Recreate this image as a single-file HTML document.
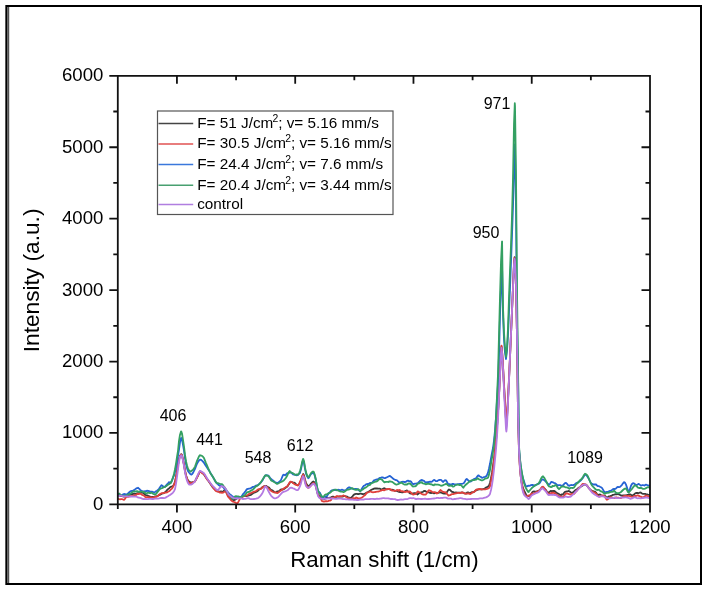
<!DOCTYPE html>
<html><head><meta charset="utf-8"><style>
html,body{margin:0;padding:0;background:#fff;width:706px;height:591px;overflow:hidden}
svg{display:block;will-change:transform;filter:blur(0.3px)}
text{font-family:"Liberation Sans", sans-serif}
</style></head><body><svg width="706" height="591" viewBox="0 0 706 591" font-family='"Liberation Sans", sans-serif' fill="#000"><defs><clipPath id="clip"><rect x="117.8" y="75.8" width="532.2" height="428.59999999999997"/></clipPath></defs><rect x="5" y="5" width="697" height="2" fill="#000"/><rect x="5" y="583" width="697" height="2" fill="#000"/><rect x="700" y="5" width="2" height="580" fill="#000"/><rect x="5" y="5" width="1" height="580" fill="#555"/><rect x="6" y="5" width="1" height="580" fill="#000"/><rect x="7" y="7" width="1" height="576" fill="#6a6a6a"/><rect x="8" y="7" width="1" height="576" fill="#505050"/><rect x="9" y="7" width="1" height="576" fill="#d8d8d8"/><g clip-path="url(#clip)"><path d="M118.0,495.3 L119.0,495.4 L120.0,495.7 L121.0,496.0 L122.0,496.1 L123.0,496.3 L124.0,496.6 L124.9,496.7 L125.0,496.4 L126.0,496.0 L127.0,495.6 L128.0,495.4 L129.0,495.3 L130.0,495.0 L131.0,494.4 L132.0,494.2 L133.0,494.0 L134.0,493.6 L135.0,493.8 L136.0,493.9 L137.0,493.4 L138.0,493.1 L139.0,493.2 L140.0,493.2 L141.0,492.7 L142.0,492.1 L142.8,492.4 L143.0,493.0 L144.0,493.7 L145.0,494.6 L146.0,495.2 L147.0,495.3 L148.0,495.7 L149.0,496.2 L150.0,496.6 L151.0,497.0 L152.0,496.9 L153.0,496.9 L154.0,496.9 L154.7,496.6 L155.0,496.4 L156.0,496.3 L157.0,496.2 L158.0,495.7 L159.0,495.1 L160.0,494.8 L161.0,494.2 L162.0,493.6 L163.0,493.4 L164.0,492.9 L165.0,492.2 L166.0,491.4 L167.0,490.2 L168.0,489.2 L169.0,488.3 L170.0,487.3 L171.0,486.7 L172.0,486.6 L173.0,486.0 L174.0,484.5 L175.0,481.9 L176.0,477.2 L177.0,471.3 L178.0,464.8 L179.0,459.2 L180.0,456.0 L181.0,454.4 L181.4,454.2 L182.0,455.2 L183.0,459.6 L184.0,464.6 L185.0,470.7 L186.0,475.3 L187.0,478.4 L188.0,480.4 L189.0,481.4 L190.0,482.2 L190.5,482.4 L191.0,482.5 L192.0,482.4 L193.0,482.2 L194.0,482.1 L195.0,481.3 L196.0,479.4 L197.0,477.3 L198.0,475.6 L199.0,473.3 L200.0,471.6 L200.2,471.3 L201.0,471.9 L202.0,472.4 L203.0,473.2 L204.0,474.4 L205.0,476.0 L206.0,477.4 L207.0,478.8 L208.0,480.2 L209.0,481.7 L210.0,483.3 L211.0,484.7 L212.0,486.2 L213.0,487.7 L214.0,488.6 L215.0,489.3 L216.0,490.4 L217.0,491.2 L218.0,491.4 L219.0,491.6 L220.0,491.6 L221.0,491.4 L221.8,491.6 L222.0,492.0 L223.0,491.6 L224.0,490.6 L224.7,490.0 L225.0,490.0 L226.0,491.4 L227.0,493.3 L228.0,495.4 L229.0,497.0 L230.0,498.0 L231.0,498.6 L232.0,499.1 L233.0,499.9 L233.3,500.1 L234.0,500.0 L235.0,499.8 L236.0,499.1 L237.0,498.5 L238.0,498.2 L239.0,497.8 L240.0,497.5 L241.0,497.2 L242.0,496.8 L243.0,496.4 L244.0,496.0 L245.0,496.1 L246.0,496.2 L247.0,496.0 L248.0,495.7 L249.0,495.3 L250.0,495.1 L251.0,494.8 L252.0,494.0 L253.0,493.2 L254.0,492.7 L255.0,492.3 L256.0,491.9 L257.0,491.4 L258.0,490.7 L259.0,489.7 L260.0,489.1 L261.0,488.4 L262.0,487.5 L263.0,486.8 L264.0,486.3 L265.0,486.0 L265.6,485.9 L266.0,485.8 L267.0,486.5 L268.0,487.1 L269.0,487.6 L270.0,488.8 L271.0,489.8 L272.0,490.2 L273.0,490.8 L274.0,491.7 L275.0,492.4 L276.0,492.3 L277.0,491.7 L277.1,491.4 L278.0,491.6 L279.0,491.2 L280.0,490.2 L281.0,489.4 L282.0,489.5 L283.0,489.5 L284.0,489.0 L285.0,488.2 L286.0,487.5 L287.0,486.8 L288.0,485.6 L289.0,484.0 L290.0,482.6 L291.0,481.8 L291.1,481.8 L292.0,482.2 L293.0,482.6 L294.0,482.6 L295.0,483.1 L296.0,484.1 L297.0,485.0 L298.0,485.2 L298.1,485.1 L299.0,484.4 L300.0,482.7 L301.0,480.5 L302.0,476.9 L303.0,474.2 L303.2,473.9 L304.0,475.5 L305.0,479.8 L306.0,482.8 L307.0,484.8 L308.0,486.1 L308.3,486.0 L309.0,485.8 L310.0,484.8 L311.0,483.6 L312.0,482.5 L313.0,481.6 L313.4,481.5 L314.0,482.0 L315.0,483.8 L316.0,486.7 L317.0,491.5 L318.0,494.7 L319.0,495.8 L320.0,496.9 L321.0,498.0 L322.0,499.0 L322.6,499.2 L323.0,499.2 L324.0,499.1 L325.0,498.7 L326.0,498.1 L327.0,497.8 L328.0,498.0 L329.0,498.0 L330.0,497.6 L331.0,497.3 L332.0,496.8 L333.0,496.5 L334.0,497.0 L335.0,497.4 L336.0,497.0 L337.0,496.6 L338.0,496.6 L339.0,496.6 L340.0,496.3 L341.0,496.5 L342.0,496.7 L343.0,496.5 L344.0,496.2 L345.0,496.2 L346.0,496.4 L347.0,496.6 L348.0,497.2 L349.0,497.8 L350.0,497.7 L350.4,497.9 L351.0,497.9 L352.0,497.0 L353.0,495.7 L354.0,494.6 L355.0,494.1 L356.0,493.9 L357.0,493.9 L358.0,494.2 L359.0,494.0 L360.0,493.6 L361.0,493.7 L362.0,494.0 L363.0,494.1 L364.0,493.9 L365.0,493.6 L366.0,493.0 L367.0,492.4 L368.0,492.1 L369.0,491.4 L370.0,490.7 L371.0,490.1 L372.0,489.5 L373.0,489.1 L374.0,488.7 L375.0,488.5 L376.0,488.4 L377.0,488.5 L378.0,488.7 L379.0,488.7 L380.0,488.7 L381.0,489.3 L382.0,489.4 L383.0,488.7 L384.0,488.2 L385.0,488.5 L386.0,489.1 L387.0,489.3 L388.0,489.1 L389.0,489.0 L390.0,489.6 L391.0,489.8 L392.0,489.7 L393.0,489.8 L394.0,490.4 L395.0,490.9 L396.0,490.8 L397.0,490.9 L398.0,491.5 L399.0,491.9 L400.0,492.0 L401.0,492.1 L402.0,492.4 L403.0,492.3 L404.0,491.7 L405.0,491.2 L406.0,490.8 L407.0,490.4 L407.1,490.6 L408.0,491.4 L409.0,492.5 L410.0,493.4 L411.0,493.6 L412.0,493.6 L413.0,493.5 L414.0,493.2 L415.0,493.1 L416.0,493.4 L417.0,494.0 L417.6,494.5 L418.0,494.0 L419.0,493.2 L420.0,492.8 L421.0,492.4 L422.0,492.2 L423.0,491.7 L424.0,491.0 L425.0,490.8 L425.3,491.1 L426.0,491.6 L427.0,491.9 L428.0,492.1 L429.0,492.5 L430.0,492.9 L431.0,493.0 L432.0,492.8 L433.0,492.8 L434.0,493.4 L435.0,493.2 L436.0,492.7 L437.0,493.0 L438.0,492.8 L439.0,492.6 L440.0,492.4 L440.6,492.3 L441.0,492.7 L442.0,492.9 L443.0,493.3 L444.0,493.5 L445.0,493.4 L445.7,493.7 L446.0,493.5 L447.0,492.1 L448.0,490.4 L449.0,489.5 L449.5,489.8 L450.0,489.9 L451.0,491.0 L452.0,491.9 L453.0,492.0 L454.0,492.6 L455.0,492.7 L456.0,492.5 L457.0,492.6 L458.0,492.7 L459.0,492.6 L460.0,492.6 L461.0,492.6 L462.0,492.4 L463.0,492.6 L464.0,493.1 L465.0,493.4 L466.0,493.7 L466.1,493.6 L467.0,492.7 L468.0,492.3 L469.0,492.8 L470.0,493.1 L471.0,492.5 L472.0,492.1 L473.0,492.3 L474.0,491.9 L475.0,490.9 L476.0,490.4 L477.0,490.1 L478.0,489.5 L479.0,489.3 L480.0,489.3 L481.0,489.3 L482.0,489.3 L483.0,489.1 L484.0,488.9 L485.0,488.3 L486.0,487.6 L487.0,487.2 L488.0,486.6 L489.0,485.6 L490.0,482.8 L491.0,478.2 L492.0,472.9 L493.0,466.0 L494.0,459.5 L495.0,451.0 L496.0,440.6 L497.0,426.6 L498.0,412.9 L499.0,395.2 L500.0,373.8 L501.0,351.7 L501.5,346.5 L502.0,350.5 L503.0,366.1 L504.0,385.9 L505.0,404.2 L506.0,420.9 L506.4,423.0 L507.0,418.6 L508.0,399.9 L509.0,379.8 L510.0,357.0 L511.0,334.1 L512.0,311.0 L513.0,287.6 L514.0,263.0 L514.6,257.1 L515.0,259.5 L516.0,282.5 L517.0,336.5 L518.0,412.5 L519.0,450.6 L520.0,467.9 L521.0,478.7 L522.0,484.7 L523.0,488.2 L524.0,490.4 L525.0,492.4 L526.0,494.5 L527.0,495.9 L527.5,496.2 L528.0,496.1 L529.0,495.9 L530.0,495.9 L531.0,494.6 L532.0,492.7 L533.0,491.6 L534.0,491.4 L535.0,491.6 L536.0,491.7 L537.0,491.3 L538.0,490.9 L539.0,490.5 L540.0,490.1 L541.0,488.7 L542.0,487.4 L542.2,487.7 L543.0,488.1 L544.0,488.4 L545.0,489.0 L546.0,490.1 L547.0,491.8 L547.9,492.9 L548.0,492.9 L549.0,492.2 L550.0,491.4 L551.0,490.8 L551.3,490.9 L552.0,491.1 L553.0,491.0 L554.0,490.9 L555.0,491.4 L556.0,492.3 L557.0,493.1 L558.0,493.5 L559.0,494.1 L560.0,494.9 L561.0,495.0 L561.5,494.5 L562.0,494.8 L563.0,494.3 L564.0,492.9 L565.0,491.9 L566.0,491.6 L567.0,491.3 L568.0,491.1 L568.3,491.0 L569.0,491.1 L570.0,491.7 L571.0,492.5 L571.7,493.0 L572.0,492.9 L573.0,492.4 L574.0,491.5 L575.0,490.4 L576.0,489.8 L577.0,489.3 L578.0,488.3 L579.0,487.6 L580.0,487.4 L581.0,486.6 L582.0,486.0 L583.0,485.3 L584.0,484.6 L584.1,484.5 L585.0,484.7 L586.0,484.9 L587.0,485.5 L588.0,487.0 L589.0,488.4 L590.0,489.3 L591.0,490.2 L592.0,490.8 L593.0,491.2 L594.0,491.6 L595.0,491.6 L596.0,492.6 L597.0,494.2 L598.0,495.1 L599.0,494.6 L600.0,494.4 L601.0,495.2 L602.0,496.0 L603.0,496.0 L604.0,495.8 L605.0,496.0 L606.0,497.0 L606.8,497.7 L607.0,497.7 L608.0,497.0 L609.0,496.3 L610.0,496.2 L611.0,496.0 L612.0,495.4 L613.0,494.9 L614.0,494.7 L615.0,494.3 L616.0,494.1 L616.7,494.4 L617.0,494.2 L618.0,494.1 L619.0,494.4 L620.0,494.9 L621.0,495.5 L622.0,495.6 L623.0,495.4 L624.0,495.4 L624.7,495.4 L625.0,495.5 L626.0,495.5 L627.0,495.0 L628.0,494.8 L628.6,494.9 L629.0,494.4 L630.0,494.4 L631.0,494.9 L632.0,495.3 L632.6,495.3 L633.0,495.3 L634.0,494.6 L635.0,493.5 L636.0,492.9 L637.0,493.0 L638.0,493.0 L638.5,493.2 L639.0,493.0 L640.0,492.5 L641.0,492.7 L642.0,493.5 L643.0,493.9 L644.0,493.9 L645.0,493.9 L646.0,494.2 L647.0,494.4 L648.0,494.7 L649.0,494.9 L650.0,494.9" fill="none" stroke="#3a3a3a" stroke-width="1.8" stroke-linejoin="round"/><path d="M118.0,498.4 L119.0,499.2 L120.0,499.4 L121.0,499.2 L122.0,499.2 L123.0,499.5 L123.9,499.8 L124.0,499.8 L125.0,498.8 L126.0,497.3 L127.0,496.8 L128.0,496.9 L129.0,496.6 L130.0,496.3 L131.0,496.1 L132.0,496.2 L133.0,496.0 L134.0,495.4 L135.0,495.2 L136.0,495.0 L137.0,494.2 L138.0,493.8 L139.0,494.0 L139.8,493.7 L140.0,493.4 L141.0,494.1 L142.0,494.8 L143.0,495.2 L144.0,495.7 L145.0,496.7 L146.0,497.4 L147.0,497.1 L148.0,497.0 L149.0,497.3 L150.0,497.5 L151.0,497.3 L152.0,497.5 L153.0,497.6 L154.0,497.2 L155.0,496.9 L156.0,496.9 L157.0,496.6 L158.0,495.8 L159.0,494.7 L160.0,494.0 L161.0,493.5 L162.0,493.1 L163.0,493.2 L164.0,493.0 L165.0,492.6 L166.0,492.6 L167.0,492.4 L168.0,491.8 L169.0,491.3 L170.0,490.5 L171.0,489.4 L172.0,488.6 L173.0,487.0 L174.0,484.7 L175.0,482.0 L176.0,477.3 L177.0,471.4 L178.0,464.8 L179.0,459.2 L180.0,456.2 L181.0,454.6 L181.4,454.5 L182.0,455.4 L183.0,459.7 L184.0,464.6 L185.0,470.8 L186.0,475.5 L187.0,478.7 L188.0,481.2 L189.0,482.8 L190.0,483.4 L190.4,482.9 L191.0,483.1 L192.0,483.1 L193.0,482.4 L194.0,481.9 L195.0,481.4 L196.0,479.5 L197.0,477.5 L198.0,475.5 L199.0,473.0 L200.0,471.5 L200.2,471.4 L201.0,472.0 L202.0,473.1 L203.0,473.6 L204.0,474.0 L205.0,475.7 L206.0,477.7 L207.0,479.3 L208.0,480.4 L209.0,481.4 L210.0,482.9 L211.0,484.4 L212.0,485.9 L213.0,487.3 L214.0,488.8 L215.0,490.0 L216.0,491.0 L217.0,491.5 L218.0,491.5 L219.0,492.1 L220.0,492.7 L221.0,492.5 L221.8,492.3 L222.0,492.8 L223.0,492.7 L224.0,492.1 L224.7,491.5 L225.0,491.0 L226.0,492.1 L227.0,494.4 L228.0,496.6 L229.0,497.7 L230.0,498.8 L231.0,500.2 L232.0,501.1 L233.0,501.7 L234.0,502.0 L235.0,502.4 L236.0,502.8 L237.0,503.1 L237.5,503.0 L238.0,502.6 L239.0,500.7 L240.0,498.6 L241.0,497.6 L242.0,497.1 L243.0,496.4 L244.0,495.9 L245.0,495.8 L246.0,495.6 L247.0,495.3 L248.0,494.8 L249.0,494.1 L250.0,493.4 L251.0,493.0 L252.0,492.6 L253.0,492.1 L254.0,491.7 L255.0,491.4 L256.0,491.0 L257.0,490.2 L258.0,489.4 L259.0,489.2 L260.0,489.1 L261.0,488.8 L262.0,488.0 L263.0,486.9 L264.0,486.3 L265.0,486.3 L265.6,486.5 L266.0,486.5 L267.0,487.3 L268.0,488.1 L269.0,488.9 L270.0,490.0 L271.0,490.8 L272.0,491.4 L273.0,492.0 L274.0,492.3 L275.0,492.3 L276.0,492.7 L277.0,492.9 L277.1,493.1 L278.0,492.8 L279.0,492.1 L280.0,491.2 L281.0,490.5 L282.0,489.8 L283.0,489.1 L284.0,488.3 L285.0,487.7 L286.0,487.1 L287.0,486.5 L288.0,485.4 L289.0,483.4 L290.0,481.9 L290.5,481.7 L291.0,481.7 L292.0,482.2 L293.0,483.1 L294.0,483.8 L295.0,484.5 L296.0,484.9 L297.0,485.0 L297.5,485.4 L298.0,485.6 L299.0,484.0 L300.0,481.7 L301.0,479.6 L302.0,476.8 L303.0,474.9 L303.2,474.7 L304.0,476.6 L305.0,481.4 L306.0,484.5 L307.0,486.4 L308.0,487.8 L308.3,487.9 L309.0,487.5 L310.0,486.7 L311.0,485.7 L312.0,484.3 L313.0,483.2 L313.4,483.0 L314.0,483.1 L315.0,484.1 L316.0,485.5 L317.0,490.1 L318.0,494.8 L319.0,496.6 L320.0,497.4 L321.0,499.1 L322.0,501.1 L323.0,501.3 L324.0,501.5 L325.0,501.4 L326.0,501.0 L326.3,501.3 L327.0,501.3 L328.0,501.1 L329.0,500.7 L330.0,500.6 L331.0,500.2 L332.0,497.7 L333.0,497.9 L334.0,497.5 L335.0,497.2 L336.0,496.6 L337.0,496.0 L338.0,496.4 L339.0,496.5 L340.0,496.3 L341.0,496.3 L342.0,496.2 L343.0,495.6 L343.3,495.4 L344.0,495.8 L345.0,496.3 L346.0,496.8 L347.0,497.7 L348.0,498.2 L349.0,498.2 L350.0,498.5 L350.4,498.8 L351.0,498.8 L352.0,498.5 L353.0,498.1 L354.0,498.2 L355.0,498.5 L356.0,498.0 L356.1,497.5 L357.0,497.9 L358.0,498.4 L359.0,498.3 L360.0,498.3 L360.3,498.4 L361.0,498.0 L362.0,497.5 L363.0,496.7 L364.0,495.8 L365.0,495.2 L366.0,493.9 L367.0,492.6 L368.0,492.4 L369.0,492.0 L370.0,491.4 L371.0,491.7 L372.0,492.2 L373.0,492.3 L374.0,492.1 L375.0,492.0 L376.0,491.8 L377.0,491.7 L378.0,491.6 L379.0,491.3 L380.0,491.0 L381.0,490.7 L382.0,490.0 L383.0,490.0 L384.0,490.3 L385.0,489.9 L386.0,489.4 L387.0,489.1 L388.0,489.0 L388.7,488.9 L389.0,488.9 L390.0,489.1 L391.0,489.6 L392.0,490.5 L393.0,490.7 L394.0,490.6 L394.3,490.8 L395.0,491.0 L396.0,490.5 L397.0,489.9 L398.0,490.3 L398.6,490.8 L399.0,490.0 L400.0,490.2 L401.0,491.0 L402.0,491.5 L402.8,491.2 L403.0,491.3 L404.0,491.8 L405.0,492.0 L406.0,491.9 L407.0,491.4 L408.0,491.7 L408.5,492.1 L409.0,491.4 L410.0,491.7 L411.0,492.6 L412.0,493.7 L413.0,494.5 L413.8,494.6 L414.0,494.3 L415.0,494.2 L416.0,493.8 L417.0,492.5 L417.6,491.3 L418.0,491.4 L419.0,492.1 L420.0,492.6 L421.0,493.4 L422.0,494.1 L423.0,494.5 L424.0,494.7 L425.0,494.7 L425.3,494.6 L426.0,494.3 L427.0,493.0 L428.0,491.2 L429.0,490.2 L429.1,490.5 L430.0,490.6 L431.0,491.1 L432.0,491.8 L433.0,492.3 L434.0,492.1 L435.0,492.2 L436.0,493.1 L436.8,493.5 L437.0,493.3 L438.0,492.9 L439.0,491.9 L440.0,490.7 L440.6,489.9 L441.0,490.3 L442.0,491.2 L443.0,491.9 L444.0,492.2 L445.0,492.1 L446.0,492.6 L447.0,493.8 L448.0,495.0 L448.2,495.5 L449.0,495.5 L450.0,495.1 L451.0,494.6 L452.0,494.2 L453.0,494.1 L454.0,493.8 L455.0,493.5 L456.0,493.4 L457.0,493.1 L458.0,492.9 L459.0,492.9 L460.0,493.0 L461.0,492.8 L462.0,492.4 L463.0,492.7 L464.0,493.3 L465.0,493.5 L466.0,493.6 L467.0,493.6 L468.0,493.4 L469.0,493.5 L469.9,493.9 L470.0,494.1 L471.0,493.7 L472.0,492.8 L473.0,492.1 L474.0,491.9 L475.0,491.2 L476.0,489.9 L477.0,489.4 L478.0,489.3 L479.0,489.0 L480.0,488.9 L481.0,489.1 L481.4,489.5 L482.0,489.3 L483.0,489.3 L484.0,489.3 L485.0,489.3 L485.2,489.4 L486.0,489.2 L487.0,488.8 L488.0,488.6 L489.0,487.9 L490.0,486.2 L491.0,481.4 L492.0,475.7 L493.0,469.1 L494.0,460.3 L495.0,450.6 L496.0,440.6 L497.0,426.5 L498.0,412.9 L499.0,395.2 L500.0,373.8 L501.0,351.3 L501.5,345.7 L502.0,350.1 L503.0,365.9 L504.0,384.4 L505.0,402.1 L506.0,418.8 L506.4,421.0 L507.0,416.5 L508.0,397.8 L509.0,378.4 L510.0,357.0 L511.0,334.3 L512.0,311.0 L513.0,287.8 L514.0,263.7 L514.6,258.0 L515.0,260.3 L516.0,282.8 L517.0,336.4 L518.0,411.9 L519.0,452.5 L520.0,469.9 L521.0,478.4 L522.0,484.4 L523.0,489.6 L524.0,493.2 L525.0,495.0 L526.0,496.2 L527.0,496.4 L528.0,495.7 L529.0,495.5 L530.0,495.1 L531.0,494.1 L532.0,493.5 L533.0,493.7 L534.0,493.6 L535.0,492.8 L536.0,492.3 L537.0,491.8 L538.0,491.2 L539.0,490.8 L540.0,489.7 L541.0,488.3 L542.0,487.2 L542.2,486.8 L543.0,486.7 L544.0,487.6 L545.0,489.4 L546.0,490.9 L547.0,492.2 L548.0,493.6 L549.0,494.2 L550.0,493.6 L551.0,493.2 L552.0,493.0 L552.4,492.7 L553.0,492.6 L554.0,492.9 L555.0,493.3 L556.0,494.2 L557.0,495.1 L558.0,495.6 L559.0,496.4 L560.0,496.5 L561.0,496.5 L562.0,496.9 L562.6,497.2 L563.0,497.2 L564.0,495.9 L565.0,494.4 L566.0,493.5 L567.0,493.5 L568.0,493.7 L569.0,494.1 L570.0,494.5 L571.0,494.3 L572.0,493.8 L573.0,493.8 L574.0,493.8 L575.0,492.8 L576.0,491.5 L577.0,490.5 L578.0,489.2 L579.0,488.1 L580.0,487.2 L581.0,485.9 L582.0,484.5 L583.0,483.8 L584.0,484.2 L585.0,484.3 L586.0,484.5 L587.0,485.6 L588.0,487.0 L589.0,488.2 L590.0,489.5 L591.0,490.6 L592.0,491.3 L593.0,491.8 L594.0,492.3 L595.0,492.7 L596.0,493.5 L597.0,494.9 L598.0,495.9 L599.0,496.5 L600.0,496.5 L601.0,495.9 L602.0,495.3 L603.0,495.4 L604.0,495.9 L605.0,496.6 L606.0,498.8 L606.8,499.8 L607.0,499.7 L608.0,499.2 L609.0,498.1 L610.0,497.3 L611.0,497.2 L612.0,497.7 L613.0,497.9 L614.0,498.1 L615.0,497.8 L616.0,497.4 L617.0,497.5 L618.0,497.8 L618.7,497.6 L619.0,497.9 L620.0,498.2 L621.0,498.0 L622.0,497.4 L623.0,496.6 L624.0,496.2 L625.0,496.0 L625.6,495.8 L626.0,496.0 L627.0,496.2 L628.0,495.9 L629.0,495.8 L630.0,496.1 L631.0,496.6 L632.0,496.8 L633.0,496.8 L633.6,496.5 L634.0,496.0 L635.0,495.9 L636.0,496.0 L637.0,495.6 L637.5,495.3 L638.0,495.4 L639.0,495.9 L640.0,496.4 L641.0,496.7 L641.5,497.3 L642.0,497.6 L643.0,497.2 L644.0,496.8 L645.0,496.3 L645.5,495.7 L646.0,495.6 L647.0,495.9 L648.0,496.1 L649.0,496.3 L650.0,496.8" fill="none" stroke="#e0403c" stroke-width="1.8" stroke-linejoin="round"/><path d="M118.0,494.4 L119.0,494.9 L120.0,495.2 L121.0,495.4 L122.0,495.2 L123.0,494.4 L124.0,494.0 L125.0,494.2 L126.0,494.4 L127.0,494.2 L128.0,493.5 L129.0,492.5 L130.0,491.6 L131.0,491.1 L132.0,490.8 L133.0,490.6 L134.0,490.2 L135.0,489.4 L136.0,488.6 L137.0,488.2 L137.8,488.1 L138.0,487.8 L139.0,488.6 L140.0,489.7 L141.0,490.5 L142.0,491.2 L142.8,491.4 L143.0,491.5 L144.0,491.5 L145.0,491.1 L146.0,491.1 L146.7,491.0 L147.0,490.7 L148.0,490.8 L149.0,491.2 L150.0,491.6 L151.0,491.6 L152.0,491.6 L153.0,492.0 L154.0,492.4 L155.0,492.0 L156.0,491.3 L157.0,490.8 L158.0,490.0 L159.0,488.7 L160.0,487.2 L161.0,485.8 L161.6,485.1 L162.0,485.5 L163.0,486.3 L164.0,486.7 L164.6,487.0 L165.0,486.9 L166.0,485.6 L167.0,484.3 L168.0,483.3 L169.0,482.2 L169.4,482.3 L170.0,482.5 L171.0,482.6 L172.0,480.5 L173.0,477.9 L174.0,475.5 L175.0,472.0 L176.0,467.5 L177.0,462.0 L178.0,455.7 L179.0,449.5 L180.0,442.4 L181.0,438.1 L181.2,437.9 L182.0,439.7 L183.0,444.8 L184.0,450.6 L185.0,458.1 L186.0,464.0 L187.0,468.1 L188.0,471.1 L189.0,472.5 L190.0,473.7 L191.0,474.5 L191.3,474.6 L192.0,474.2 L193.0,472.9 L194.0,470.9 L195.0,468.9 L196.0,466.2 L197.0,463.7 L198.0,461.9 L199.0,460.4 L200.0,459.6 L200.2,459.6 L201.0,459.8 L202.0,460.6 L203.0,461.6 L204.0,462.8 L205.0,464.4 L206.0,466.0 L207.0,467.5 L208.0,469.1 L209.0,470.3 L210.0,472.2 L211.0,474.0 L212.0,475.6 L213.0,477.2 L214.0,478.9 L215.0,480.8 L216.0,482.5 L217.0,483.6 L218.0,484.3 L219.0,485.3 L220.0,485.9 L221.0,486.0 L222.0,486.2 L223.0,487.0 L224.0,488.3 L225.0,489.6 L226.0,490.6 L227.0,491.3 L228.0,492.2 L229.0,493.5 L230.0,494.5 L231.0,495.1 L232.0,496.0 L233.0,496.8 L234.0,497.5 L235.0,497.9 L236.0,497.4 L237.0,497.1 L238.0,497.1 L239.0,496.9 L240.0,497.4 L240.1,498.0 L241.0,497.3 L242.0,495.7 L243.0,494.2 L244.0,493.1 L245.0,491.9 L246.0,490.4 L247.0,489.2 L248.0,488.8 L249.0,488.6 L250.0,488.4 L251.0,488.1 L252.0,487.4 L253.0,486.9 L254.0,486.8 L255.0,486.2 L256.0,485.6 L257.0,485.3 L258.0,485.0 L259.0,484.1 L260.0,483.2 L261.0,482.3 L262.0,481.0 L263.0,479.4 L264.0,477.4 L265.0,475.9 L265.6,475.3 L266.0,475.2 L267.0,475.4 L268.0,475.5 L269.0,476.3 L270.0,477.7 L271.0,479.0 L272.0,479.8 L273.0,480.5 L274.0,481.3 L275.0,482.2 L276.0,482.7 L277.0,482.9 L277.1,483.0 L278.0,482.8 L279.0,482.1 L280.0,481.2 L281.0,480.0 L282.0,477.5 L283.0,475.1 L284.0,474.7 L285.0,475.3 L286.0,474.5 L287.0,473.4 L288.0,473.0 L289.0,472.8 L289.8,472.5 L290.0,472.3 L291.0,472.6 L292.0,473.3 L293.0,474.3 L294.0,474.6 L295.0,474.7 L296.0,475.1 L297.0,475.3 L297.5,475.0 L298.0,474.8 L299.0,474.0 L300.0,472.8 L301.0,469.3 L302.0,464.0 L303.0,460.5 L303.2,460.3 L304.0,462.7 L305.0,468.9 L306.0,473.4 L307.0,476.1 L308.0,477.9 L308.3,478.2 L309.0,477.5 L310.0,475.4 L311.0,473.9 L312.0,473.3 L313.0,472.9 L313.4,472.8 L314.0,473.4 L315.0,476.5 L316.0,480.8 L317.0,487.1 L318.0,490.8 L319.0,491.9 L320.0,492.8 L321.0,495.0 L322.0,497.8 L322.1,497.7 L323.0,497.3 L324.0,496.9 L325.0,496.6 L326.0,496.6 L327.0,496.1 L328.0,494.4 L329.0,492.9 L330.0,492.1 L331.0,490.9 L332.0,490.3 L333.0,490.3 L333.4,490.0 L334.0,489.7 L335.0,489.8 L336.0,490.2 L337.0,490.3 L338.0,489.7 L339.0,489.9 L340.0,490.4 L341.0,490.0 L342.0,489.7 L343.0,490.0 L344.0,490.3 L345.0,490.4 L346.0,490.1 L347.0,488.9 L348.0,487.8 L349.0,487.4 L350.0,487.4 L350.4,488.0 L351.0,488.4 L352.0,488.5 L353.0,488.9 L354.0,489.2 L355.0,489.0 L356.0,488.8 L357.0,489.1 L358.0,489.6 L359.0,490.4 L360.0,491.0 L360.3,491.1 L361.0,490.2 L362.0,488.4 L363.0,486.8 L364.0,485.7 L365.0,485.2 L366.0,484.4 L367.0,484.0 L368.0,484.1 L369.0,483.6 L370.0,483.0 L371.0,482.9 L372.0,482.8 L373.0,481.6 L374.0,480.4 L375.0,480.0 L376.0,479.7 L377.0,479.5 L378.0,479.0 L379.0,478.4 L380.0,477.9 L381.0,477.7 L382.0,477.3 L383.0,477.5 L384.0,478.1 L385.0,478.1 L386.0,477.7 L387.0,477.2 L388.0,476.7 L389.0,476.2 L390.0,475.9 L390.1,476.2 L391.0,476.8 L392.0,477.6 L393.0,478.5 L394.0,479.3 L395.0,479.8 L396.0,480.0 L397.0,480.3 L398.0,481.3 L399.0,482.3 L400.0,482.5 L401.0,482.2 L402.0,481.8 L403.0,481.7 L404.0,482.0 L405.0,482.0 L405.7,481.9 L406.0,481.7 L407.0,480.9 L408.0,480.7 L409.0,481.1 L410.0,481.1 L411.0,481.6 L412.0,483.1 L413.0,484.0 L413.8,484.1 L414.0,483.9 L415.0,483.7 L416.0,483.6 L417.0,483.3 L418.0,483.0 L419.0,482.0 L420.0,480.8 L421.0,480.2 L422.0,480.0 L422.1,480.3 L423.0,480.5 L424.0,480.9 L425.0,481.9 L426.0,482.5 L427.0,482.2 L428.0,482.1 L429.0,482.0 L430.0,481.6 L431.0,481.9 L432.0,481.6 L433.0,480.7 L434.0,479.9 L435.0,480.4 L436.0,481.2 L437.0,481.2 L438.0,480.6 L439.0,480.0 L440.0,479.9 L440.6,479.8 L441.0,479.8 L442.0,480.9 L443.0,482.0 L443.1,481.8 L444.0,480.9 L445.0,480.2 L445.7,480.3 L446.0,480.3 L447.0,481.9 L448.0,483.8 L449.0,484.2 L450.0,484.2 L451.0,484.9 L452.0,485.0 L452.1,483.9 L453.0,483.8 L454.0,484.2 L455.0,484.4 L456.0,484.5 L457.0,484.3 L458.0,484.1 L459.0,484.2 L460.0,484.0 L461.0,483.9 L462.0,483.8 L463.0,483.5 L464.0,482.9 L465.0,481.2 L466.0,479.4 L466.7,478.9 L467.0,479.2 L468.0,480.2 L469.0,481.2 L469.3,481.4 L470.0,481.7 L471.0,481.3 L472.0,480.5 L473.0,479.7 L474.0,479.0 L475.0,478.7 L476.0,478.2 L477.0,476.8 L478.0,475.4 L478.8,475.4 L479.0,475.9 L480.0,476.5 L481.0,477.0 L481.4,477.4 L482.0,477.9 L483.0,477.5 L484.0,477.1 L485.0,476.9 L486.0,476.4 L487.0,474.9 L488.0,472.7 L489.0,468.5 L490.0,463.8 L491.0,458.2 L492.0,453.0 L493.0,448.0 L494.0,440.6 L495.0,430.5 L496.0,417.0 L497.0,400.0 L498.0,384.0 L499.0,354.8 L500.0,315.4 L501.0,286.9 L502.0,268.8 L502.1,268.6 L503.0,314.3 L504.0,339.5 L505.0,352.7 L506.0,359.0 L507.0,350.6 L508.0,334.9 L509.0,312.3 L510.0,287.8 L511.0,262.4 L512.0,235.3 L513.0,206.1 L514.0,166.0 L514.8,144.4 L515.0,147.1 L516.0,209.0 L517.0,320.6 L518.0,372.8 L519.0,448.0 L520.0,460.0 L521.0,468.4 L522.0,474.2 L523.0,478.3 L524.0,481.4 L525.0,484.5 L526.0,486.4 L527.0,486.4 L528.0,485.9 L528.6,485.6 L529.0,485.9 L530.0,485.7 L531.0,485.1 L532.0,484.9 L533.0,485.0 L534.0,485.5 L535.0,485.5 L536.0,485.0 L537.0,484.3 L538.0,483.9 L539.0,483.7 L540.0,482.6 L541.0,480.8 L542.0,479.5 L542.2,479.4 L543.0,479.5 L544.0,480.0 L545.0,480.9 L546.0,481.8 L547.0,482.8 L548.0,484.0 L549.0,484.7 L550.0,483.8 L551.0,482.3 L551.3,481.9 L552.0,482.0 L553.0,482.4 L554.0,482.8 L555.0,483.1 L556.0,483.9 L557.0,484.9 L558.0,485.3 L559.0,485.1 L560.0,485.2 L561.0,485.4 L561.5,485.7 L562.0,486.0 L563.0,485.3 L564.0,484.2 L565.0,483.2 L566.0,482.9 L567.0,483.8 L568.0,485.1 L569.0,485.9 L569.4,485.8 L570.0,485.3 L571.0,485.0 L572.0,485.1 L573.0,485.2 L574.0,484.9 L575.0,484.1 L576.0,483.3 L577.0,482.8 L578.0,482.3 L579.0,481.9 L580.0,481.1 L581.0,480.1 L582.0,478.9 L583.0,477.7 L584.0,476.0 L585.0,474.7 L585.3,474.9 L586.0,474.9 L587.0,476.0 L588.0,477.6 L589.0,479.2 L590.0,481.4 L591.0,483.1 L592.0,483.9 L593.0,484.3 L594.0,484.5 L595.0,484.3 L596.0,484.5 L597.0,485.5 L598.0,486.2 L599.0,486.2 L600.0,486.8 L601.0,487.3 L602.0,487.9 L603.0,489.6 L604.0,491.4 L604.8,492.2 L605.0,492.7 L606.0,492.2 L607.0,491.8 L608.0,491.8 L609.0,491.3 L610.0,490.8 L611.0,490.5 L612.0,490.0 L613.0,489.1 L614.0,488.8 L615.0,489.0 L616.0,488.4 L617.0,487.4 L618.0,486.9 L619.0,487.1 L620.0,486.9 L621.0,485.9 L622.0,484.8 L623.0,483.3 L624.0,482.2 L624.2,482.1 L625.0,482.8 L626.0,484.6 L627.0,487.5 L628.0,490.8 L628.6,491.9 L629.0,491.7 L630.0,488.9 L631.0,485.8 L632.0,484.0 L633.0,483.2 L633.6,483.4 L634.0,483.4 L635.0,484.4 L636.0,484.9 L636.1,484.8 L637.0,484.9 L638.0,484.3 L638.5,483.9 L639.0,484.1 L640.0,484.9 L641.0,485.7 L641.5,485.5 L642.0,485.2 L643.0,485.2 L644.0,485.3 L644.5,485.6 L645.0,485.1 L646.0,484.7 L647.0,485.0 L648.0,485.3 L649.0,485.6 L650.0,485.8" fill="none" stroke="#2563d4" stroke-width="1.8" stroke-linejoin="round"/><path d="M118.0,493.8 L119.0,493.5 L120.0,494.2 L121.0,495.1 L122.0,495.5 L123.0,496.0 L124.0,496.3 L124.9,495.9 L125.0,495.6 L126.0,495.7 L127.0,495.3 L128.0,494.5 L129.0,494.1 L130.0,493.9 L131.0,493.3 L132.0,492.4 L133.0,491.6 L134.0,491.3 L135.0,491.5 L136.0,491.4 L137.0,491.2 L137.8,491.4 L138.0,491.7 L139.0,491.7 L140.0,491.6 L141.0,491.6 L142.0,491.6 L143.0,491.8 L144.0,492.0 L145.0,492.7 L146.0,493.5 L146.7,493.4 L147.0,493.0 L148.0,492.7 L149.0,492.8 L150.0,493.2 L150.7,493.2 L151.0,492.6 L152.0,492.9 L153.0,493.7 L154.0,494.2 L154.7,494.2 L155.0,494.5 L156.0,493.9 L157.0,492.6 L158.0,491.4 L159.0,490.2 L160.0,489.0 L161.0,488.4 L162.0,488.1 L163.0,487.6 L164.0,487.2 L165.0,486.8 L166.0,486.3 L167.0,485.6 L168.0,484.8 L169.0,484.3 L170.0,483.6 L171.0,482.6 L172.0,480.2 L173.0,477.3 L174.0,473.9 L175.0,469.2 L176.0,463.6 L177.0,457.0 L178.0,450.8 L179.0,440.8 L180.0,434.7 L181.0,431.5 L181.2,431.4 L182.0,433.5 L183.0,439.8 L184.0,446.6 L185.0,454.9 L186.0,461.2 L187.0,465.5 L188.0,468.7 L189.0,470.3 L190.0,471.2 L190.8,471.6 L191.0,471.4 L192.0,470.4 L193.0,469.7 L194.0,468.3 L195.0,466.6 L196.0,463.8 L197.0,460.9 L198.0,458.6 L199.0,456.4 L200.0,455.2 L200.2,455.4 L201.0,455.5 L202.0,455.9 L203.0,456.7 L204.0,458.1 L205.0,460.6 L206.0,463.1 L207.0,465.4 L208.0,467.8 L209.0,470.2 L210.0,472.4 L211.0,474.1 L212.0,475.5 L213.0,477.1 L214.0,478.7 L215.0,480.5 L216.0,482.3 L217.0,483.1 L218.0,483.2 L219.0,483.5 L220.0,483.9 L221.0,484.1 L222.0,484.1 L223.0,485.2 L224.0,486.7 L225.0,487.9 L226.0,489.4 L227.0,491.5 L228.0,493.5 L229.0,494.8 L230.0,495.6 L231.0,497.1 L232.0,498.5 L233.0,498.8 L233.3,498.7 L234.0,497.9 L235.0,496.4 L236.0,496.2 L237.0,496.4 L238.0,496.3 L239.0,496.7 L240.0,497.8 L240.1,497.9 L241.0,497.1 L242.0,496.5 L243.0,496.1 L244.0,495.9 L245.0,495.0 L246.0,493.7 L247.0,492.4 L248.0,492.0 L249.0,491.9 L250.0,491.2 L251.0,490.6 L252.0,490.1 L253.0,489.4 L254.0,488.5 L255.0,487.3 L256.0,486.4 L257.0,485.9 L258.0,485.2 L259.0,484.4 L260.0,483.5 L261.0,482.1 L262.0,480.4 L263.0,479.0 L264.0,477.3 L265.0,475.6 L265.6,475.3 L266.0,475.5 L267.0,475.5 L268.0,475.8 L269.0,476.9 L270.0,478.5 L271.0,480.2 L272.0,481.0 L273.0,481.3 L274.0,482.0 L275.0,482.6 L276.0,483.3 L277.0,483.9 L277.1,483.9 L278.0,483.6 L279.0,483.0 L280.0,482.3 L281.0,482.0 L282.0,481.6 L283.0,480.9 L284.0,480.2 L285.0,479.0 L286.0,477.7 L287.0,476.1 L288.0,473.8 L289.0,471.6 L289.8,471.0 L290.0,471.7 L291.0,472.4 L292.0,472.8 L293.0,473.3 L294.0,474.0 L295.0,474.8 L296.0,474.7 L297.0,474.4 L297.5,474.7 L298.0,474.8 L299.0,473.1 L300.0,471.1 L301.0,467.6 L302.0,462.3 L303.0,459.0 L303.2,458.9 L304.0,461.2 L305.0,467.5 L306.0,472.1 L307.0,475.2 L308.0,477.0 L308.3,477.0 L309.0,476.8 L310.0,475.0 L311.0,473.1 L312.0,472.0 L313.0,471.5 L313.4,471.6 L314.0,472.4 L315.0,475.7 L316.0,480.3 L317.0,486.7 L318.0,491.0 L319.0,492.7 L320.0,494.1 L321.0,495.3 L322.0,496.4 L322.1,496.9 L323.0,496.9 L324.0,496.1 L325.0,494.8 L326.0,494.4 L327.0,494.3 L328.0,493.5 L329.0,493.0 L330.0,492.8 L331.0,492.0 L332.0,490.9 L333.0,490.4 L334.0,490.1 L334.8,489.8 L335.0,489.7 L336.0,489.7 L337.0,490.0 L338.0,490.5 L339.0,491.0 L340.0,491.4 L341.0,491.7 L342.0,491.7 L343.0,492.0 L343.3,492.1 L344.0,491.9 L345.0,491.4 L346.0,490.5 L347.0,489.8 L348.0,489.6 L349.0,489.5 L350.0,489.1 L351.0,488.4 L351.8,488.1 L352.0,488.2 L353.0,488.6 L354.0,489.3 L355.0,489.7 L356.0,490.0 L357.0,489.7 L358.0,489.1 L359.0,489.8 L360.0,491.1 L360.3,491.3 L361.0,490.4 L362.0,489.8 L363.0,489.4 L364.0,488.4 L365.0,487.8 L366.0,487.4 L367.0,486.6 L368.0,485.7 L369.0,485.2 L370.0,484.8 L371.0,483.7 L372.0,482.8 L373.0,482.5 L374.0,482.3 L375.0,481.8 L376.0,481.5 L377.0,481.3 L378.0,480.5 L379.0,479.4 L380.0,479.0 L380.2,479.1 L381.0,479.2 L382.0,479.7 L383.0,480.9 L384.0,482.0 L384.4,482.4 L385.0,482.2 L386.0,481.9 L387.0,481.8 L388.0,481.9 L388.7,482.0 L389.0,481.5 L390.0,481.4 L391.0,481.6 L392.0,481.8 L393.0,482.4 L394.0,483.2 L395.0,483.9 L396.0,484.6 L397.0,484.6 L397.2,484.3 L398.0,484.2 L399.0,483.7 L400.0,483.2 L401.0,482.7 L401.4,482.5 L402.0,483.1 L403.0,483.8 L404.0,484.3 L405.0,484.6 L405.7,484.3 L406.0,484.5 L407.0,484.5 L408.0,483.7 L409.0,483.3 L410.0,483.5 L411.0,484.5 L412.0,485.7 L413.0,486.5 L413.8,486.4 L414.0,486.3 L415.0,486.3 L416.0,485.9 L417.0,484.7 L418.0,483.7 L419.0,483.4 L420.0,482.9 L421.0,482.1 L422.0,482.3 L422.1,483.0 L423.0,483.4 L424.0,483.6 L425.0,483.9 L426.0,484.3 L426.6,484.2 L427.0,483.9 L428.0,483.7 L429.0,483.8 L430.0,484.1 L430.4,484.3 L431.0,484.2 L432.0,484.6 L433.0,485.2 L434.0,485.3 L434.2,484.7 L435.0,484.4 L436.0,484.6 L437.0,484.7 L438.0,484.6 L439.0,484.8 L440.0,485.3 L441.0,485.8 L441.9,485.7 L442.0,485.5 L443.0,485.3 L444.0,484.8 L445.0,484.3 L445.7,484.0 L446.0,483.7 L447.0,484.3 L448.0,485.3 L449.0,485.9 L450.0,485.9 L451.0,485.5 L452.0,485.5 L452.1,486.2 L453.0,486.7 L454.0,486.3 L455.0,485.4 L456.0,485.0 L457.0,484.7 L458.0,484.6 L459.0,485.0 L459.7,485.2 L460.0,484.9 L461.0,485.2 L462.0,486.2 L463.0,487.5 L463.5,487.7 L464.0,486.6 L465.0,485.5 L466.0,484.5 L467.0,483.7 L468.0,482.9 L469.0,481.9 L470.0,481.0 L471.0,480.7 L472.0,480.4 L473.0,480.2 L474.0,480.0 L475.0,479.8 L476.0,479.7 L477.0,479.0 L477.6,478.2 L478.0,478.6 L479.0,479.3 L480.0,479.7 L481.0,480.1 L481.4,480.4 L482.0,480.4 L483.0,480.1 L484.0,479.5 L485.0,478.8 L486.0,478.3 L487.0,478.3 L488.0,477.7 L489.0,474.6 L490.0,470.1 L491.0,463.9 L492.0,457.9 L493.0,452.0 L494.0,444.6 L495.0,434.0 L496.0,417.4 L497.0,396.1 L498.0,374.4 L499.0,335.1 L500.0,296.8 L501.0,262.1 L502.0,241.7 L502.1,241.5 L503.0,307.4 L504.0,332.0 L505.0,347.7 L506.0,356.9 L507.0,348.0 L508.0,328.2 L509.0,297.2 L510.0,270.7 L511.0,244.7 L512.0,216.2 L513.0,177.9 L514.0,124.0 L514.8,103.2 L515.0,105.9 L516.0,173.0 L517.0,289.5 L518.0,364.3 L519.0,446.0 L520.0,459.2 L521.0,467.2 L522.0,473.1 L523.0,478.6 L524.0,483.0 L525.0,486.0 L526.0,488.2 L527.0,490.0 L528.0,491.7 L528.6,492.0 L529.0,491.2 L530.0,490.2 L531.0,489.0 L532.0,487.8 L533.0,487.0 L534.0,486.3 L535.0,485.5 L536.0,484.8 L537.0,484.5 L538.0,483.9 L539.0,482.9 L540.0,480.9 L541.0,478.7 L542.0,476.9 L543.0,476.2 L543.3,477.1 L544.0,477.3 L545.0,479.1 L546.0,480.9 L547.0,483.0 L548.0,485.1 L549.0,486.3 L550.0,486.7 L551.0,487.1 L552.0,486.8 L552.4,485.9 L553.0,486.1 L554.0,486.0 L555.0,485.2 L555.8,485.1 L556.0,485.4 L557.0,486.5 L558.0,488.2 L559.0,489.2 L559.2,488.9 L560.0,488.2 L561.0,487.1 L562.0,486.5 L562.6,486.6 L563.0,486.4 L564.0,486.5 L565.0,487.1 L566.0,487.4 L567.0,487.4 L568.0,487.8 L569.0,488.6 L569.4,488.8 L570.0,488.2 L571.0,487.8 L572.0,487.8 L573.0,488.1 L574.0,487.5 L575.0,486.0 L576.0,484.4 L577.0,483.5 L578.0,482.7 L579.0,481.3 L580.0,480.2 L581.0,479.5 L582.0,478.5 L583.0,476.9 L584.0,475.0 L585.0,473.7 L585.3,474.0 L586.0,474.2 L587.0,475.0 L588.0,476.6 L589.0,479.0 L590.0,481.5 L591.0,483.7 L592.0,485.5 L593.0,486.7 L594.0,487.7 L595.0,488.8 L596.0,489.6 L597.0,490.0 L598.0,489.9 L599.0,489.9 L600.0,490.7 L601.0,491.4 L602.0,491.7 L603.0,492.4 L604.0,493.4 L604.8,493.9 L605.0,493.6 L606.0,493.1 L607.0,492.9 L608.0,492.8 L609.0,492.6 L610.0,492.1 L611.0,491.9 L612.0,491.9 L613.0,491.7 L613.8,491.0 L614.0,490.5 L615.0,491.6 L616.0,492.9 L616.7,492.9 L617.0,493.1 L618.0,493.1 L619.0,492.9 L620.0,492.6 L621.0,492.0 L622.0,491.0 L623.0,490.0 L624.0,489.1 L625.0,488.6 L625.6,488.6 L626.0,488.4 L627.0,490.0 L628.0,492.1 L628.6,492.5 L629.0,492.1 L630.0,491.2 L631.0,490.0 L632.0,488.8 L633.0,487.4 L634.0,486.1 L634.6,485.6 L635.0,485.3 L636.0,485.7 L637.0,486.7 L638.0,487.7 L639.0,488.0 L640.0,488.0 L640.5,487.9 L641.0,487.9 L642.0,488.3 L643.0,488.9 L644.0,488.9 L645.0,488.6 L646.0,488.2 L647.0,487.5 L648.0,487.2 L649.0,487.4 L650.0,487.5" fill="none" stroke="#34a062" stroke-width="1.8" stroke-linejoin="round"/><path d="M118.0,496.2 L119.0,496.0 L120.0,495.6 L121.0,495.6 L122.0,496.0 L123.0,496.4 L124.0,496.3 L125.0,496.4 L126.0,496.3 L127.0,496.4 L128.0,496.5 L129.0,496.3 L130.0,496.4 L131.0,496.7 L132.0,496.6 L133.0,496.5 L134.0,496.6 L135.0,496.6 L136.0,496.5 L137.0,496.9 L138.0,497.5 L139.0,497.6 L140.0,497.8 L141.0,498.2 L142.0,498.6 L143.0,499.0 L144.0,499.1 L144.7,499.0 L145.0,499.1 L146.0,499.2 L147.0,499.2 L148.0,499.1 L149.0,498.9 L150.0,498.9 L151.0,498.9 L152.0,499.0 L153.0,499.0 L154.0,498.8 L155.0,498.7 L156.0,498.7 L157.0,498.7 L158.0,498.6 L159.0,498.4 L160.0,498.1 L161.0,498.0 L162.0,498.0 L163.0,498.0 L164.0,498.1 L165.0,497.9 L166.0,497.4 L167.0,496.7 L168.0,496.2 L169.0,495.6 L170.0,495.0 L171.0,494.2 L172.0,493.5 L173.0,492.6 L174.0,491.2 L175.0,489.1 L176.0,483.8 L177.0,476.8 L178.0,469.1 L179.0,462.0 L180.0,457.0 L181.0,455.4 L181.4,455.2 L182.0,456.2 L183.0,460.9 L184.0,466.1 L185.0,472.0 L186.0,477.0 L187.0,480.7 L188.0,483.1 L189.0,484.6 L189.1,484.5 L190.0,484.7 L191.0,484.6 L192.0,484.2 L193.0,483.4 L194.0,482.4 L195.0,481.2 L196.0,479.1 L197.0,476.6 L198.0,474.4 L199.0,472.3 L200.0,470.9 L200.2,470.8 L201.0,471.2 L202.0,471.9 L203.0,472.5 L204.0,473.3 L205.0,474.8 L206.0,476.5 L207.0,478.3 L208.0,479.8 L209.0,481.2 L210.0,482.5 L211.0,483.8 L212.0,485.1 L213.0,486.2 L214.0,487.2 L215.0,488.2 L216.0,489.2 L217.0,489.9 L217.5,490.1 L218.0,489.8 L219.0,488.9 L220.0,487.6 L221.0,486.4 L221.8,486.0 L222.0,486.1 L223.0,486.4 L224.0,487.0 L225.0,487.9 L226.0,489.3 L227.0,491.3 L228.0,493.4 L229.0,494.9 L230.0,495.8 L231.0,496.5 L232.0,497.2 L233.0,497.8 L234.0,498.2 L235.0,498.5 L236.0,498.4 L237.0,498.2 L238.0,498.4 L239.0,498.4 L240.0,498.3 L241.0,498.3 L242.0,498.7 L243.0,499.1 L243.9,498.9 L244.0,498.8 L245.0,498.8 L246.0,498.6 L247.0,498.3 L247.7,498.1 L248.0,498.0 L249.0,498.4 L250.0,498.8 L251.0,499.1 L252.0,499.2 L253.0,499.1 L254.0,499.0 L255.0,498.9 L256.0,498.7 L257.0,498.4 L258.0,498.1 L259.0,497.3 L260.0,496.3 L261.0,495.2 L262.0,493.8 L263.0,491.9 L264.0,489.1 L265.0,486.8 L265.6,486.3 L266.0,486.3 L267.0,488.2 L268.0,490.4 L269.0,492.2 L270.0,494.1 L271.0,495.6 L272.0,496.6 L273.0,497.6 L274.0,498.2 L274.5,498.3 L275.0,498.3 L276.0,498.1 L277.0,497.7 L278.0,497.2 L279.0,496.2 L280.0,495.0 L281.0,493.8 L282.0,492.8 L283.0,492.1 L284.0,491.7 L285.0,491.4 L286.0,491.0 L287.0,490.5 L288.0,489.9 L289.0,488.8 L290.0,487.9 L290.5,487.8 L291.0,487.6 L292.0,487.8 L293.0,488.3 L294.0,488.6 L295.0,489.2 L296.0,489.8 L297.0,490.1 L297.5,490.1 L298.0,489.9 L299.0,488.5 L300.0,486.1 L301.0,483.4 L302.0,479.1 L303.0,476.1 L303.2,476.1 L304.0,478.0 L305.0,482.9 L306.0,486.0 L307.0,487.3 L308.0,487.8 L308.3,487.7 L309.0,487.7 L310.0,486.6 L311.0,485.5 L312.0,484.6 L313.0,483.9 L313.4,483.8 L314.0,484.1 L315.0,485.3 L316.0,486.9 L317.0,491.7 L318.0,496.0 L319.0,497.5 L320.0,498.3 L321.0,498.6 L322.0,498.7 L322.6,499.0 L323.0,499.0 L324.0,498.9 L325.0,498.9 L326.0,498.8 L327.0,498.6 L328.0,498.3 L329.0,498.1 L329.2,498.2 L330.0,498.3 L331.0,498.5 L332.0,498.5 L333.0,498.5 L334.0,498.7 L335.0,498.8 L336.0,498.8 L337.0,498.8 L338.0,498.7 L339.0,498.7 L340.0,498.7 L341.0,498.7 L342.0,498.9 L343.0,499.1 L344.0,499.1 L345.0,499.2 L346.0,499.4 L347.0,499.3 L348.0,499.4 L349.0,499.6 L350.0,499.6 L351.0,499.4 L352.0,499.5 L353.0,499.6 L354.0,499.8 L355.0,499.8 L356.0,499.8 L357.0,500.0 L357.5,500.1 L358.0,500.0 L359.0,499.8 L360.0,499.6 L361.0,499.6 L362.0,499.5 L363.0,499.6 L364.0,499.5 L365.0,499.2 L366.0,499.1 L367.0,499.2 L368.0,499.2 L369.0,499.1 L370.0,499.0 L371.0,498.9 L372.0,498.9 L373.0,498.9 L374.0,499.0 L375.0,499.1 L376.0,498.9 L377.0,498.7 L378.0,498.9 L379.0,498.8 L380.0,498.6 L381.0,498.5 L382.0,498.3 L383.0,498.1 L384.0,498.2 L385.0,498.4 L385.8,498.4 L386.0,498.3 L387.0,498.3 L388.0,498.3 L389.0,498.5 L390.0,498.8 L391.0,499.0 L392.0,499.0 L393.0,499.2 L394.0,499.2 L395.0,499.2 L396.0,499.6 L397.0,500.0 L398.0,500.0 L399.0,499.9 L400.0,499.6 L401.0,499.5 L402.0,499.6 L403.0,499.6 L404.0,499.3 L405.0,499.2 L406.0,499.2 L407.0,499.2 L408.0,498.8 L409.0,498.3 L410.0,498.1 L411.0,498.2 L412.0,498.3 L413.0,498.2 L414.0,498.2 L414.2,498.3 L415.0,498.6 L416.0,499.1 L417.0,499.0 L418.0,498.7 L419.0,498.8 L420.0,498.9 L421.0,499.0 L422.0,499.0 L423.0,498.9 L424.0,498.9 L425.0,498.7 L426.0,498.9 L427.0,499.1 L428.0,499.0 L429.0,499.0 L430.0,498.9 L431.0,498.8 L432.0,498.7 L433.0,498.7 L434.0,498.5 L435.0,498.3 L436.0,498.2 L437.0,497.9 L438.0,497.9 L439.0,498.2 L440.0,498.1 L441.0,497.9 L441.9,497.9 L442.0,498.0 L443.0,497.9 L444.0,497.7 L445.0,497.6 L446.0,497.7 L447.0,498.1 L448.0,498.6 L449.0,498.7 L450.0,498.6 L451.0,498.7 L452.0,499.1 L453.0,499.3 L454.0,499.0 L454.6,499.0 L455.0,499.0 L456.0,498.9 L457.0,498.7 L458.0,498.6 L459.0,498.3 L460.0,498.1 L461.0,498.2 L462.0,498.5 L463.0,498.7 L464.0,498.8 L465.0,498.9 L466.0,499.1 L467.0,499.3 L468.0,499.1 L469.0,499.1 L470.0,499.2 L471.0,499.0 L472.0,498.8 L473.0,498.8 L474.0,498.9 L475.0,498.9 L476.0,498.9 L477.0,498.9 L478.0,498.8 L479.0,498.6 L480.0,498.4 L481.0,498.4 L482.0,498.4 L483.0,498.3 L484.0,497.8 L485.0,497.6 L486.0,497.4 L487.0,496.9 L488.0,496.3 L489.0,495.4 L490.0,493.9 L491.0,490.0 L492.0,484.8 L493.0,478.0 L494.0,469.7 L495.0,459.6 L496.0,449.4 L497.0,436.5 L498.0,420.0 L499.0,398.0 L500.0,376.0 L501.0,353.5 L501.5,348.0 L502.0,352.1 L503.0,368.3 L504.0,390.0 L505.0,410.3 L506.0,429.1 L506.4,431.5 L507.0,426.0 L508.0,402.9 L509.0,380.1 L510.0,357.0 L511.0,333.8 L512.0,310.8 L513.0,288.0 L514.0,264.6 L514.6,259.0 L515.0,261.3 L516.0,283.2 L517.0,336.3 L518.0,412.5 L519.0,450.6 L520.0,467.7 L521.0,479.5 L522.0,487.7 L523.0,492.1 L524.0,494.6 L525.0,495.9 L526.0,496.7 L527.0,497.4 L528.0,498.5 L528.6,499.0 L529.0,498.8 L530.0,497.7 L531.0,496.2 L532.0,495.2 L533.0,494.6 L534.0,494.1 L535.0,493.7 L536.0,493.2 L537.0,492.8 L538.0,492.5 L539.0,491.8 L540.0,490.7 L541.0,489.2 L542.0,488.3 L542.2,488.2 L543.0,488.6 L544.0,489.7 L545.0,490.6 L546.0,491.6 L547.0,493.2 L548.0,494.6 L549.0,495.1 L550.0,494.9 L551.0,494.7 L552.0,494.9 L552.4,495.0 L553.0,494.8 L554.0,494.8 L555.0,495.0 L556.0,495.2 L557.0,495.8 L558.0,496.7 L559.0,497.3 L560.0,497.5 L561.0,497.6 L562.0,497.5 L563.0,497.6 L564.0,497.3 L565.0,496.7 L566.0,496.5 L567.0,496.8 L568.0,497.1 L569.0,497.0 L569.4,496.9 L570.0,496.9 L571.0,496.4 L572.0,495.4 L573.0,494.6 L574.0,493.7 L575.0,492.5 L576.0,491.5 L577.0,490.6 L578.0,489.5 L579.0,488.4 L580.0,487.4 L581.0,486.4 L582.0,485.5 L583.0,484.9 L584.0,484.7 L585.0,484.5 L585.3,484.6 L586.0,484.9 L587.0,485.8 L588.0,487.1 L589.0,488.2 L590.0,489.5 L591.0,491.2 L592.0,492.5 L593.0,493.2 L594.0,494.0 L595.0,494.8 L596.0,495.3 L597.0,495.9 L598.0,496.5 L599.0,496.9 L600.0,496.5 L601.0,496.1 L602.0,496.3 L603.0,496.3 L604.0,496.6 L605.0,497.3 L606.0,497.9 L607.0,498.1 L608.0,498.2 L609.0,498.3 L610.0,498.3 L611.0,498.2 L612.0,498.2 L613.0,498.1 L614.0,497.7 L614.8,497.4 L615.0,497.5 L616.0,497.8 L617.0,498.1 L618.0,498.2 L618.7,498.2 L619.0,498.1 L620.0,497.9 L621.0,497.7 L622.0,497.6 L623.0,497.6 L624.0,497.5 L625.0,497.4 L626.0,497.3 L627.0,497.5 L628.0,497.8 L629.0,498.2 L630.0,498.6 L630.6,498.8 L631.0,498.7 L632.0,498.3 L633.0,497.9 L634.0,497.3 L634.6,497.1 L635.0,497.4 L636.0,497.7 L637.0,498.1 L638.0,498.3 L638.5,498.2 L639.0,498.2 L640.0,498.3 L641.0,498.3 L642.0,498.2 L643.0,498.0 L644.0,497.9 L645.0,497.6 L646.0,497.3 L647.0,497.5 L648.0,497.9 L649.0,498.0 L650.0,497.9" fill="none" stroke="#b47ae2" stroke-width="1.8" stroke-linejoin="round"/></g><path d="M117.80,75.80 V504.40 H650.00 V75.80 Z M117.80,504.40 v4.5 M117.80,75.80 v4.5 M176.93,504.40 v8 M176.93,75.80 v8 M236.07,504.40 v4.5 M236.07,75.80 v4.5 M295.20,504.40 v8 M295.20,75.80 v8 M354.33,504.40 v4.5 M354.33,75.80 v4.5 M413.47,504.40 v8 M413.47,75.80 v8 M472.60,504.40 v4.5 M472.60,75.80 v4.5 M531.73,504.40 v8 M531.73,75.80 v8 M590.87,504.40 v4.5 M590.87,75.80 v4.5 M650.00,504.40 v8 M650.00,75.80 v8 M117.80,504.40 h-8.5 M650.00,504.40 h-8.5 M117.80,468.68 h-4.5 M650.00,468.68 h-4.5 M117.80,432.97 h-8.5 M650.00,432.97 h-8.5 M117.80,397.25 h-4.5 M650.00,397.25 h-4.5 M117.80,361.53 h-8.5 M650.00,361.53 h-8.5 M117.80,325.82 h-4.5 M650.00,325.82 h-4.5 M117.80,290.10 h-8.5 M650.00,290.10 h-8.5 M117.80,254.38 h-4.5 M650.00,254.38 h-4.5 M117.80,218.67 h-8.5 M650.00,218.67 h-8.5 M117.80,182.95 h-4.5 M650.00,182.95 h-4.5 M117.80,147.23 h-8.5 M650.00,147.23 h-8.5 M117.80,111.52 h-4.5 M650.00,111.52 h-4.5 M117.80,75.80 h-8.5 M650.00,75.80 h-8.5" fill="none" stroke="#111" stroke-width="1.8" stroke-linecap="butt"/><text x="176.93" y="532.8" font-size="18.6" text-anchor="middle">400</text><text x="295.20" y="532.8" font-size="18.6" text-anchor="middle">600</text><text x="413.47" y="532.8" font-size="18.6" text-anchor="middle">800</text><text x="531.73" y="532.8" font-size="18.6" text-anchor="middle">1000</text><text x="650.00" y="532.8" font-size="18.6" text-anchor="middle">1200</text><text x="103.4" y="509.80" font-size="18.6" text-anchor="end">0</text><text x="103.4" y="438.37" font-size="18.6" text-anchor="end">1000</text><text x="103.4" y="366.93" font-size="18.6" text-anchor="end">2000</text><text x="103.4" y="295.50" font-size="18.6" text-anchor="end">3000</text><text x="103.4" y="224.07" font-size="18.6" text-anchor="end">4000</text><text x="103.4" y="152.63" font-size="18.6" text-anchor="end">5000</text><text x="103.4" y="81.20" font-size="18.6" text-anchor="end">6000</text><text x="384.4" y="567.3" font-size="22.3" text-anchor="middle">Raman shift (1/cm)</text><text transform="translate(39,280.4) rotate(-90)" font-size="22.7" text-anchor="middle">Intensity (a.u.)</text><text x="173" y="421" font-size="16" text-anchor="middle">406</text><text x="209.5" y="445" font-size="16" text-anchor="middle">441</text><text x="258" y="463" font-size="16" text-anchor="middle">548</text><text x="300" y="451" font-size="16" text-anchor="middle">612</text><text x="486" y="238" font-size="16" text-anchor="middle">950</text><text x="497" y="108.5" font-size="16" text-anchor="middle">971</text><text x="585" y="463" font-size="16" text-anchor="middle">1089</text><rect x="157.5" y="111" width="235.5" height="103.5" fill="#fff" stroke="#555" stroke-width="1.2"/><path d="M158.5,123.4 H193.2" stroke="#444" stroke-width="1.5"/><text x="197.2" y="127.9" font-size="15.3">F= 51 J/cm<tspan dx="-0.9" dy="-6.2" font-size="10.4">2</tspan><tspan dy="6.2">; v= 5.16 mm/s</tspan></text><path d="M158.5,143.9 H193.2" stroke="#e05252" stroke-width="1.5"/><text x="197.2" y="148.4" font-size="15.3">F= 30.5 J/cm<tspan dx="-0.9" dy="-6.2" font-size="10.4">2</tspan><tspan dy="6.2">; v= 5.16 mm/s</tspan></text><path d="M158.5,164.6 H193.2" stroke="#3a78dc" stroke-width="1.5"/><text x="197.2" y="169.1" font-size="15.3">F= 24.4 J/cm<tspan dx="-0.9" dy="-6.2" font-size="10.4">2</tspan><tspan dy="6.2">; v= 7.6 mm/s</tspan></text><path d="M158.5,185.2 H193.2" stroke="#48a070" stroke-width="1.5"/><text x="197.2" y="189.7" font-size="15.3">F= 20.4 J/cm<tspan dx="-0.9" dy="-6.2" font-size="10.4">2</tspan><tspan dy="6.2">; v= 3.44 mm/s</tspan></text><path d="M158.5,204.4 H193.2" stroke="#b07ee0" stroke-width="1.5"/><text x="197.2" y="208.9" font-size="15.3">control</text></svg></body></html>
